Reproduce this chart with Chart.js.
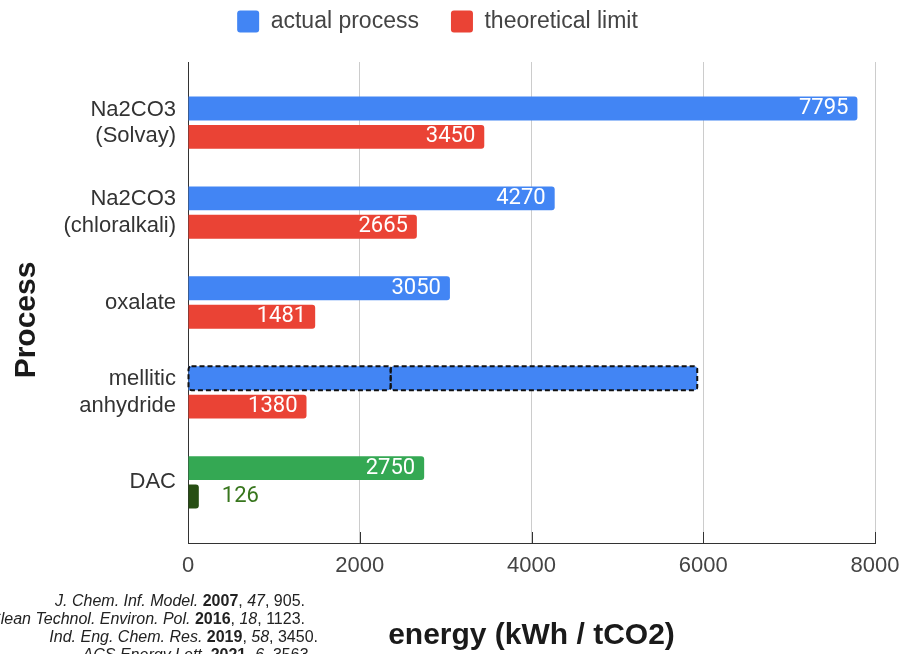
<!DOCTYPE html>
<html>
<head>
<meta charset="utf-8">
<script src="https://cdn.jsdelivr.net/npm/chart.js@4.4.1/dist/chart.umd.min.js"></script>
<style>
  html, body { margin: 0; padding: 0; background: #fff; overflow: hidden; }
  #wrap { position: relative; width: 901px; height: 654px; }
  #refs { position: absolute; left: 0; top: 0; width: 901px; font: 16px 'Liberation Sans', Arial, sans-serif; color: #222; }
  #refs div { position: absolute; white-space: nowrap; line-height: 18px; }
</style>
</head>
<body>
<div id="wrap">
  <canvas id="chart" width="901" height="654"></canvas>
  <div id="refs">
    <div style="right:596px; top:592px"><i>J. Chem. Inf. Model.</i> <b>2007</b>, <i>47</i>, 905.</div>
    <div style="right:596px; top:610px"><i>Clean Technol. Environ. Pol.</i> <b>2016</b>, <i>18</i>, 1123.</div>
    <div style="right:583px; top:628px"><i>Ind. Eng. Chem. Res.</i> <b>2019</b>, <i>58</i>, 3450.</div>
    <div style="right:588px; top:646px"><i>ACS Energy Lett.</i> <b>2021</b>, <i>6</i>, 3563.</div>
  </div>
</div>
<script>
// categories and values
const processes = [['Na2CO3', '(Solvay)'], ['Na2CO3', '(chloralkali)'], 'oxalate', ['mellitic', 'anhydride'], 'DAC'];
const actualProcess = [7795, 4270, 3050, null, 2750];
const theoreticalLimit = [3450, 2665, 1481, 1380, 126];
// mellitic anhydride has no single value, it is drawn as two dashed pieces
const mellitic = [[0, 2360], [2360, 5930]];
const mellIndex = 3;
const xTicks = [0, 2000, 4000, 6000, 8000];

const actualColors = ['#4285f4', '#4285f4', '#4285f4', '#4285f4', '#34a853'];
const theoryColors = ['#ea4335', '#ea4335', '#ea4335', '#ea4335', '#274e13'];

Chart.defaults.font.family = "'Liberation Sans', Arial, sans-serif";
const numFont = "Roboto, 'Liberation Sans', Arial, sans-serif";

const barOpts = {
    categoryPercentage: 0.633,
    barPercentage: 0.84,
    borderRadius: 3,
    borderWidth: 0
};

// legend is pushed up a bit, its box keeps the room above the plot
const legendFit = {
    id: 'legendFit',
    beforeInit(chart) {
        const fit = chart.legend.fit;
        chart.legend.fit = function () {
            fit.call(this);
            this.height = 84;
        };
    }
};

// dashed outline round the mellitic anhydride pieces
const dashedRange = {
    id: 'dashedRange',
    afterDatasetsDraw(chart) {
        const ctx = chart.ctx;
        ctx.save();
        ctx.setLineDash([5, 3]);
        ctx.lineWidth = 2;
        ctx.strokeStyle = '#111';
        [1, 2].forEach(di => {
            chart.getDatasetMeta(di).data.forEach(bar => {
                const p = bar.getProps(['x', 'y', 'base', 'height'], true);
                ctx.beginPath();
                ctx.roundRect(p.base, p.y - p.height / 2, p.x - p.base, p.height, 3);
                ctx.stroke();
            });
        });
        ctx.restore();
    }
};

// value labels at the end of each bar
const valueLabels = {
    id: 'valueLabels',
    afterDatasetsDraw(chart) {
        const ctx = chart.ctx;
        ctx.save();
        ctx.font = '22px ' + numFont;
        ctx.textBaseline = 'middle';
        [0, 3].forEach(di => {
            const ds = chart.data.datasets[di];
            chart.getDatasetMeta(di).data.forEach((bar, i) => {
                const v = ds.data[i].x;
                if (v == null) return;
                const txt = String(v);
                const w = ctx.measureText(txt).width;
                if (bar.x - bar.base > w + 18) {
                    ctx.fillStyle = '#fff';
                    ctx.textAlign = 'right';
                    ctx.fillText(txt, bar.x - 9, bar.y);
                } else {
                    ctx.fillStyle = '#38761d';
                    ctx.textAlign = 'left';
                    ctx.fillText(txt, bar.x + 23, bar.y);
                }
            });
        });
        ctx.restore();
    }
};

// short tick marks inside the bottom axis, and the y title
const axisExtras = {
    id: 'axisExtras',
    afterDraw(chart) {
        const {ctx, chartArea, scales: {x}} = chart;
        ctx.save();
        ctx.strokeStyle = '#333';
        ctx.lineWidth = 1;
        xTicks.forEach(t => {
            const px = Math.round(x.getPixelForValue(t)) + 0.5;
            ctx.beginPath();
            ctx.moveTo(px, chartArea.bottom - 11);
            ctx.lineTo(px, chartArea.bottom);
            ctx.stroke();
        });
        ctx.translate(27, 320);
        ctx.rotate(-Math.PI / 2);
        ctx.font = "bold 30px 'Liberation Sans', Arial, sans-serif";
        ctx.fillStyle = '#1a1a1a';
        ctx.textAlign = 'center';
        ctx.textBaseline = 'middle';
        ctx.fillText('Process', 0, 0);
        ctx.restore();
    }
};

new Chart(document.getElementById('chart'), {
    type: 'bar',
    data: {
        datasets: [
            {
                label: 'actual process',
                data: actualProcess.map((v, i) => ({x: v, y: i})),
                backgroundColor: actualColors,
                stack: 'actual',
                ...barOpts
            },
            {
                label: 'mellitic low',
                data: [{x: mellitic[0], y: mellIndex}],
                backgroundColor: actualColors[mellIndex],
                stack: 'actual',
                ...barOpts
            },
            {
                label: 'mellitic high',
                data: [{x: mellitic[1], y: mellIndex}],
                backgroundColor: actualColors[mellIndex],
                stack: 'actual',
                ...barOpts,
                borderSkipped: false
            },
            {
                label: 'theoretical limit',
                data: theoreticalLimit.map((v, i) => ({x: v, y: i})),
                backgroundColor: theoryColors,
                stack: 'theory',
                ...barOpts
            }
        ]
    },
    options: {
        indexAxis: 'y',
        responsive: false,
        animation: false,
        layout: {
            padding: {top: -22, right: 26, bottom: 0, left: 0}
        },
        scales: {
            x: {
                type: 'linear',
                min: 0,
                max: 8000,
                stacked: false,
                afterBuildTicks: s => { s.ticks = xTicks.map(v => ({value: v})); },
                afterFit: s => {
                    s.height = 111;
                    s.paddingLeft = 0;
                    s.paddingRight = 0;
                },
                grid: {color: '#cccccc', drawTicks: false},
                border: {color: '#333', width: 1},
                ticks: {
                    padding: 10,
                    color: '#444',
                    font: {size: 22},
                    callback: v => String(v)
                },
                title: {
                    display: true,
                    text: 'energy (kWh / tCO2)',
                    color: '#1a1a1a',
                    font: {size: 30, weight: 'bold'},
                    padding: {top: 0, bottom: 0}
                }
            },
            y: {
                type: 'linear',
                reverse: true,
                offset: false,
                min: -0.675,
                max: 4.675,
                afterBuildTicks: s => { s.ticks = processes.map((p, i) => ({value: i})); },
                afterFit: s => { s.width = 188; },
                grid: {display: false, drawTicks: false, offset: false},
                border: {color: '#333', width: 1},
                ticks: {
                    autoSkip: false,
                    padding: 12,
                    color: '#333',
                    font: {size: 22},
                    callback: v => processes[v]
                }
            }
        },
        plugins: {
            legend: {
                position: 'top',
                labels: {
                    boxWidth: 22,
                    boxHeight: 22,
                    padding: 32,
                    color: '#444',
                    font: {size: 23},
                    useBorderRadius: true,
                    borderRadius: 3,
                    generateLabels(chart) {
                        return [0, 3].map(di => {
                            const ds = chart.data.datasets[di];
                            return {
                                text: ds.label,
                                fillStyle: ds.backgroundColor[0],
                                strokeStyle: ds.backgroundColor[0],
                                lineWidth: 0,
                                borderRadius: 3,
                                fontColor: '#444',
                                datasetIndex: di
                            };
                        });
                    }
                }
            },
            tooltip: {enabled: false}
        }
    },
    plugins: [legendFit, dashedRange, valueLabels, axisExtras]
});
</script>
</body>
</html>
